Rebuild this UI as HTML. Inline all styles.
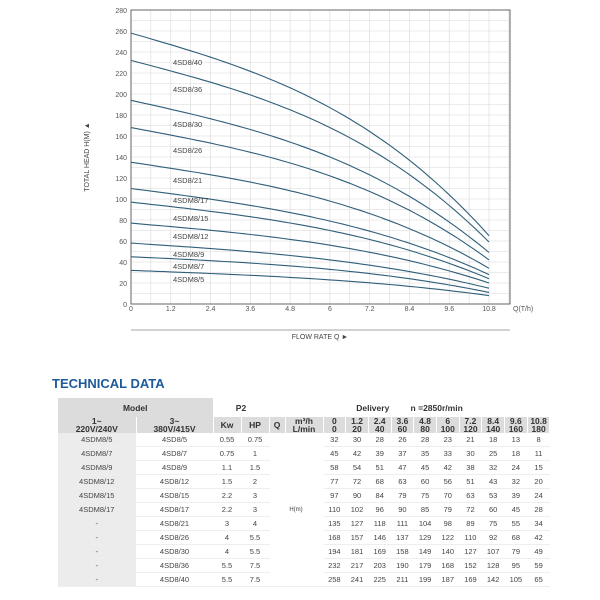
<!DOCTYPE html>
<html><head><meta charset="utf-8"><style>
body{margin:0;background:#fff;width:600px;height:600px;overflow:hidden;font-family:"Liberation Sans",sans-serif;}
#c{position:absolute;left:0;top:0}
.t{position:absolute;left:52px;top:376px;font-weight:bold;font-size:13px;color:#1e5a9a;}
table{position:absolute;left:58px;top:398px;border-collapse:collapse;font-size:7.5px;color:#444;table-layout:fixed;width:492px}
td{text-align:center;padding:0;height:13px;line-height:8px;border-right:1px solid #fff;overflow:hidden}
tr.h td{background:#dcdcdc;font-weight:bold;color:#333;font-size:8.5px;height:8px;line-height:8px}
tr.h1 td{height:19px}
td.g{background:#ececec}
tr.b td{border-bottom:1px solid #eee}
</style></head><body>
<svg id="c" width="600" height="380" font-family="Liberation Sans, sans-serif"></svg>
<div class="t">TECHNICAL DATA</div>
<table id="tb"></table>
<script>
var s=document.getElementById('c'),h='';
var X0=131,XS=33.15,Y0=304,YS=1.05;
function X(q){return X0+q*XS}function Y(v){return Y0-v*YS}
for(var q=0;q<=11.41;q+=0.6)h+='<line x1="'+X(q)+'" y1="10" x2="'+X(q)+'" y2="304" stroke="#d8d8d8" stroke-width="0.6"/>';
for(var v=0;v<=280;v+=10)h+='<line x1="131" y1="'+Y(v)+'" x2="510" y2="'+Y(v)+'" stroke="#d8d8d8" stroke-width="0.6"/>';
h+='<rect x="131" y="10" width="379" height="294" fill="none" stroke="#666" stroke-width="1"/>';
for(var v=0;v<=280;v+=20)h+='<text x="127" y="'+(Y(v)+3)+'" font-size="7" fill="#555" text-anchor="end">'+v+'</text>';
var xl=['0','1.2','2.4','3.6','4.8','6','7.2','8.4','9.6','10.8'];
xl.forEach(function(t,i){h+='<text x="'+X(i*1.2)+'" y="311" font-size="7" fill="#555" text-anchor="middle">'+t+'</text>'});
h+='<text x="513" y="311" font-size="7" fill="#555">Q(T/h)</text>';
h+='<line x1="131" y1="330" x2="510" y2="330" stroke="#888" stroke-width="0.8"/>';
h+='<text x="320" y="339" font-size="7" fill="#444" text-anchor="middle">FLOW RATE Q  ►</text>';
h+='<text transform="translate(89,157) rotate(-90)" font-size="7" fill="#444" text-anchor="middle">TOTAL HEAD H(M)  ▲</text>';
var D=[[32,30,28,26,28,23,21,18,13,8],[45,42,39,37,35,33,30,25,18,11],[58,54,51,47,45,42,38,32,24,15],[77,72,68,63,60,56,51,43,32,20],[97,90,84,79,75,70,63,53,39,24],[110,102,96,90,85,79,72,60,45,28],[135,127,118,111,104,98,89,75,55,34],[168,157,146,137,129,122,110,92,68,42],[194,181,169,158,149,140,127,107,79,49],[232,217,203,190,179,168,152,128,95,59],[258,241,225,211,199,187,169,142,105,65]];
D.forEach(function(r){var h0=r[0],he=r[9],hm=r[5];
 var A=[[6,216],[10.8,1259.712]],B=[h0-hm,h0-he];
 var det=A[0][0]*A[1][1]-A[0][1]*A[1][0];
 var a=(B[0]*A[1][1]-A[0][1]*B[1])/det,b=(A[0][0]*B[1]-A[1][0]*B[0])/det;
 var p=[];for(var q=0;q<=10.801;q+=0.2)p.push(X(q).toFixed(1)+','+Y(h0-a*q-b*q*q*q).toFixed(1));
 h+='<polyline points="'+p.join(' ')+'" fill="none" stroke="#2f5f7a" stroke-width="1.1"/>'});
var L=[['4SD8/40',62],['4SD8/36',89],['4SD8/30',124],['4SD8/26',150],['4SD8/21',180],['4SDM8/17',200],['4SDM8/15',218],['4SDM8/12',236],['4SDM8/9',254],['4SDM8/7',266],['4SDM8/5',279]];
L.forEach(function(l){h+='<text x="173" y="'+(l[1]+3)+'" font-size="7.5" fill="#444">'+l[0]+'</text>'});
s.innerHTML=h;
var M=[['4SDM8/5','4SD8/5','0.55','0.75'],['4SDM8/7','4SD8/7','0.75','1'],['4SDM8/9','4SD8/9','1.1','1.5'],['4SDM8/12','4SD8/12','1.5','2'],['4SDM8/15','4SD8/15','2.2','3'],['4SDM8/17','4SD8/17','2.2','3'],['-','4SD8/21','3','4'],['-','4SD8/26','4','5.5'],['-','4SD8/30','4','5.5'],['-','4SD8/36','5.5','7.5'],['-','4SD8/40','5.5','7.5']];
var t='<colgroup><col style="width:78px"><col style="width:77px"><col style="width:28px"><col style="width:28px"><col style="width:16px"><col style="width:38px">';
for(var i=0;i<10;i++)t+='<col style="width:22.7px">';t+='</colgroup>';
t+='<tr class="h h1"><td colspan="2">Model</td><td colspan="2" style="background:#fff">P2</td><td colspan="12" style="background:#fff">Delivery &nbsp; &nbsp; &nbsp; &nbsp; n =2850r/min</td></tr>';
t+='<tr class="h"><td rowspan="2">1~<br>220V/240V</td><td rowspan="2">3~<br>380V/415V</td><td rowspan="2">Kw</td><td rowspan="2">HP</td><td rowspan="2">Q</td><td>m³/h</td>';
xl.forEach(function(x){t+='<td>'+x+'</td>'});t+='</tr><tr class="h"><td>L/min</td>';
[0,20,40,60,80,100,120,140,160,180].forEach(function(x){t+='<td>'+x+'</td>'});t+='</tr>';
M.forEach(function(m,i){t+='<tr class="b"><td class="g">'+m[0]+'</td><td>'+m[1]+'</td><td>'+m[2]+'</td><td>'+m[3]+'</td>';
if(i==0)t+='<td colspan="2" rowspan="11" style="font-size:6px">H(m)</td>';
D[i].forEach(function(v){t+='<td>'+v+'</td>'});t+='</tr>'});
document.getElementById('tb').innerHTML=t;
</script>
</body></html>
